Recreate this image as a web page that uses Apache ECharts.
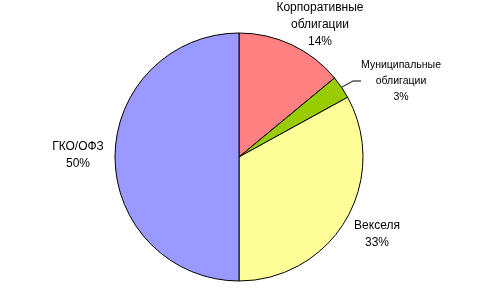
<!DOCTYPE html>
<html><head><meta charset="utf-8">
<script src="https://cdn.jsdelivr.net/npm/echarts@6/dist/echarts.min.js"></script>
<style>html,body{margin:0;padding:0;background:#fff}#c{width:484px;height:288px}</style>
</head><body><div id="c"></div>
<script>
const categories = ['Корпоративные\nоблигации', 'Муниципальные\nоблигации', 'Векселя', 'ГКО/ОФЗ'];
const values = [14, 3, 33, 50];
const colors = ['#FF8080', '#99CC00', '#FFFF99', '#9999FF'];
const labelPos = [[320, 25, 12], [401, 81, 10.5], [377, 234, 12], [78, 155, 12]];

const chart = echarts.init(document.getElementById('c'));
chart.setOption({
  animation: false,
  series: [{
    type: 'pie',
    center: [239, 157],
    radius: 124,
    startAngle: 90,
    clockwise: true,
    silent: true,
    itemStyle: { borderColor: '#000', borderWidth: 1 },
    data: categories.map((n, i) => ({
      name: n, value: values[i], itemStyle: { color: colors[i] },
      label: { fontSize: labelPos[i][2], lineHeight: i === 1 ? 16 : 17 },
      labelLine: { show: i === 1, length: 10, length2: 8, lineStyle: { color: '#000', width: 1 } }
    })),
    label: {
      show: true, position: 'outside', color: '#000',
      fontFamily: 'Liberation Sans, Arial, sans-serif',
      align: 'center',
      formatter: p => p.name + '\n' + p.value + '%'
    },
    labelLayout: p => ({ x: labelPos[p.dataIndex][0], y: labelPos[p.dataIndex][1], align: 'center', verticalAlign: 'middle' })
  }]
});
</script></body></html>
